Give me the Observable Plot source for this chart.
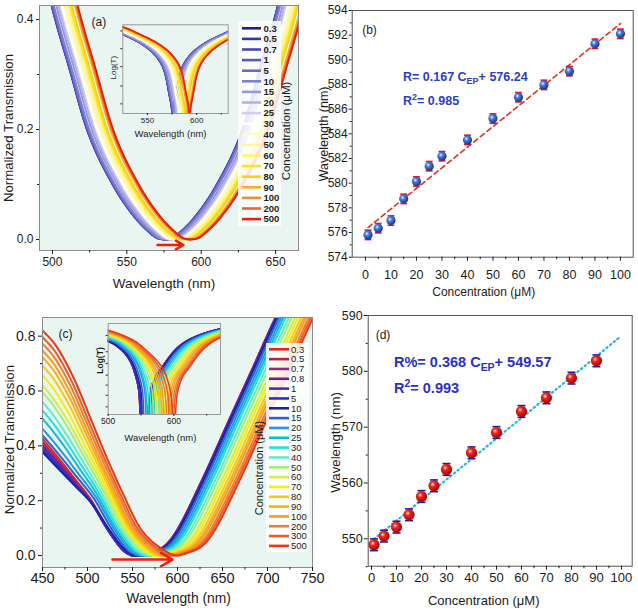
<!DOCTYPE html>
<html><head><meta charset="utf-8">
<script src="https://cdn.jsdelivr.net/npm/d3@7"></script>
<script src="https://cdn.jsdelivr.net/npm/@observablehq/plot@0.6"></script>
<style>
body{margin:0;background:#fff;}
#wrap{position:relative;width:638px;height:610px;overflow:hidden;}
#wrap svg{position:absolute;left:0;top:0;}
</style></head><body><div id="wrap"></div>
<script>
// ================= DATA =================
// Panel (a): spectra, concentrations (µM), colours, dip wavelengths (nm)
const aConc = ["0.3","0.5","0.7","1","5","10","15","20","25","30","40","50","60","70","80","90","100","200","500"];
const aColor = ["#1e1e8c","#3333ad","#4545bd","#5757c6","#6a6ad0","#7f7fd0","#9898dc","#b2b2e6","#d2cdf0","#ffffff","#fffcc8","#fff6a0","#fff070","#fbe61a","#f8cf1e","#f6ae26","#f38c2a","#ef6331","#e8210e"];
const aDip = [575.5,575.6,575.7,575.8,576.3,577.0,578.7,580.1,581.4,582.2,583.5,585.3,587.0,588.0,589.1,591.3,592.1,592.6,593.0];
const aShape = [[0,0],[5,0.0025],[9,0.010],[20,0.040],[35,0.100],[52,0.198],[64,0.310],[76,0.425],[92,0.62]];
const aArrowX = [570.6, 588.0];
const aArrowY = -0.01;
const aXTicks = [500,550,600,650], aXMinor = [525,575,625];
const aYTicks = [0,0.2,0.4], aYMinor = [0.1,0.3];
const aInsetXTicks = [550,600], aInsetXMinor = [575,625];
const aInsetYTicks = [-0.6,-1.25,-1.9,-2.6,-3.25];

// Panel (b): resonance wavelength vs concentration
const bConc = [1,5,10,15,20,25,30,40,50,60,70,80,90,100];
const bWave = [575.81,576.35,576.97,578.73,580.14,581.38,582.19,583.51,585.24,586.97,587.97,589.08,591.30,592.11];
const bErr  = [0.38,0.38,0.38,0.38,0.38,0.38,0.38,0.38,0.38,0.38,0.38,0.38,0.38,0.38];
const bSlope = 0.167, bIntercept = 576.24, bFitRange = [1,100];
const bXTicks = [0,10,20,30,40,50,60,70,80,90,100], bXMinor = [5,15,25,35,45,55,65,75,85,95];
const bYTicks = [574,576,578,580,582,584,586,588,590,592,594], bYMinor = [575,577,579,581,583,585,587,589,591,593];

// Panel (c): spectra
const cConc = ["0.3","0.5","0.7","0.8","1","5","10","15","20","25","30","40","50","60","70","80","90","100","200","300","500"];
const cColor = ["#e32420","#b0205a","#902a86","#6c2284","#4a30a6","#2a2ed6","#1a22a4","#2a60d2","#2496e2","#12bcd8","#22e2d6","#62eebe","#a0ee80","#d6ee40","#f8ec08","#f8c814","#f8ae18","#f89a26","#f07e30","#ee5a28","#ea3818"];
const cDip = [548.5,548.6,548.7,548.8,548.9,550.4,552.1,554.3,557.6,559.5,562.4,565.4,569.0,572.8,575.3,578.8,581.9,585.0,589.0,593.0,598.0];
const cLeft450 = [0.426,0.414,0.405,0.398,0.395,0.386,0.377,0.438,0.462,0.499,0.529,0.560,0.596,0.620,0.657,0.693,0.724,0.748,0.773,0.797,0.821];
const cHalfRight = [658,658.2,658.4,658.6,658.8,659.3,660,662,664.5,667,669.5,673,676,680,683,686.5,689.5,692,695,697.5,700];
const cLeftLow  = [[0,0],[0.09,0.046],[0.27,0.246],[0.45,0.49],[0.65,0.676],[0.85,0.86],[1,1]];
const cLeftHigh = [[0,0],[0.064,0.015],[0.264,0.119],[0.39,0.267],[0.514,0.43],[0.64,0.61],[0.764,0.786],[0.9,0.933],[1,1]];
const cRight = [[-98,0],[-90,0.008],[-72,0.036],[-60,0.085],[-32,0.267],[0,0.5],[25,0.68],[52,0.876],[80,1.05]];
const cArrowX = [527.8, 594.4];
const cArrowY = -0.015;
const cXTicks = [450,500,550,600,650,700,750], cXMinor = [475,525,575,625,675,725];
const cYTicks = [0,0.2,0.4,0.6,0.8], cYMinor = [0.1,0.3,0.5,0.7];
const cInsetXTicks = [500,600], cInsetXMinor = [550,650];
const cInsetYTicks = [-0.46,-1.04,-1.46,-1.87,-2.22,-2.58,-2.99];

// Panel (d)
const dConc = [1,5,10,15,20,25,30,40,50,60,70,80,90];
const dWave = [548.93,550.48,552.09,554.30,557.58,559.49,562.42,565.40,569.04,572.81,575.25,578.78,581.88];
const dErr  = [1.05,1.05,1.05,1.05,1.05,1.05,1.05,1.05,1.05,1.05,1.05,1.05,1.05];
const dSlope = 0.368, dIntercept = 549.57, dFitRange = [1,99];
const dXTicks = [0,10,20,30,40,50,60,70,80,90,100], dXMinor = [5,15,25,35,45,55,65,75,85,95];
const dYTicks = [550,560,570,580,590], dYMinor = [545,555,565,575,585];

// ================= HELPERS =================
const FONT = '"Liberation Sans", Arial, Helvetica, sans-serif';
const MINT = "#e9f5f1";
const W = 638, H = 610;
const wrap = document.getElementById("wrap");
const style = () => ({fontFamily: FONT, background: "transparent", color: "#1c1c1c"});

function monotone(pts){
  const n=pts.length, xs=pts.map(p=>p[0]), ys=pts.map(p=>p[1]);
  const d=[]; for(let i=0;i<n-1;i++) d.push((ys[i+1]-ys[i])/(xs[i+1]-xs[i]));
  const m=new Array(n); m[0]=d[0]; m[n-1]=d[n-2];
  for(let i=1;i<n-1;i++) m[i]= d[i-1]*d[i]<=0?0:(d[i-1]+d[i])/2;
  for(let i=0;i<n-1;i++){ if(d[i]===0){m[i]=0;m[i+1]=0;continue;}
    const a=m[i]/d[i], b=m[i+1]/d[i], s=a*a+b*b;
    if(s>9){const t=3/Math.sqrt(s); m[i]=t*a*d[i]; m[i+1]=t*b*d[i];} }
  return x=>{
    if(x<=xs[0]) return ys[0]+m[0]*(x-xs[0]);
    if(x>=xs[n-1]) return ys[n-1]+m[n-1]*(x-xs[n-1]);
    let i=0; while(x>xs[i+1]) i++;
    const h=xs[i+1]-xs[i], t=(x-xs[i])/h, t2=t*t, t3=t2*t;
    return (2*t3-3*t2+1)*ys[i]+(t3-2*t2+t)*h*m[i]+(-2*t3+3*t2)*ys[i+1]+(t3-t2)*h*m[i+1];
  };
}
const capSymbol = {draw(ctx, size){ const r=Math.sqrt(size/Math.PI); ctx.moveTo(-r,0); ctx.lineTo(r,0); }};

function eq(svg, x, y, size, color, parts){
  const t = svg.append("text").attr("x",x).attr("y",y).attr("font-family",FONT).attr("text-anchor","start")
    .attr("font-size",size).attr("font-weight","bold").attr("fill",color);
  let shift=0;
  for(const p of parts){
    const ts=t.append("tspan").text(p.t);
    const target = p.sub ? size*0.28 : p.sup ? -size*0.4 : 0;
    if(target!==shift){ ts.attr("dy", target-shift); shift=target; }
    if(p.sub||p.sup) ts.attr("font-size", size*0.72);
  }
}
function legend(svg, labels, colors, o){
  svg.append("rect").attr("x",o.bx).attr("y",o.by).attr("width",o.bw).attr("height",o.bh)
    .attr("fill","#ffffff").attr("opacity",0.85);
  labels.forEach((lab,i)=>{
    const y=o.y0+i*o.dy;
    svg.append("line").attr("x1",o.x0).attr("x2",o.x1).attr("y1",y).attr("y2",y)
      .attr("stroke",colors[i]).attr("stroke-width",2.6);
    svg.append("text").attr("x",o.xt).attr("y",y).attr("dy","0.35em").attr("font-family",FONT).attr("text-anchor","start")
      .attr("font-size",o.fs).attr("font-weight",o.bold?"bold":"normal").attr("fill","#1c1c1c").text(lab);
  });
  svg.append("text").attr("transform",`translate(${o.tx},${o.ty}) rotate(-90)`).attr("text-anchor","middle")
    .attr("dy","0.35em").attr("font-family",FONT).attr("font-size",o.tfs).attr("fill","#1c1c1c").text("Concentration (μM)");
}
function sphereGrad(svg, id, c0, c1, c2){
  const g = svg.insert("defs",":first-child").append("radialGradient").attr("id",id)
    .attr("cx","38%").attr("cy","36%").attr("r","62%");
  g.append("stop").attr("offset","0%").attr("stop-color",c0);
  g.append("stop").attr("offset","35%").attr("stop-color",c1);
  g.append("stop").attr("offset","100%").attr("stop-color",c2);
}

// ================= CURVE TABLES =================
const aT = monotone(aShape);
const aData = [];
aConc.forEach((c,i)=>{
  const l0=aDip[i];
  const xs=d3.range(491,666.01,0.5); xs.push(l0); xs.sort((p,q)=>p-q);
  for(const x of xs){
    const y=Math.max(0,aT(Math.abs(x-l0)));
    aData.push({i, x, y, ly:Math.log10(Math.max(y,1e-4)), col:aColor[i]});
  }
});

const cLowT=monotone(cLeftLow), cHighT=monotone(cLeftHigh), cRT=monotone(cRight);
const minA=d3.min(cLeft450), maxA=d3.max(cLeft450);
const cData=[];
cConc.forEach((c,i)=>{
  const l0=cDip[i], A=cLeft450[i], h=cHalfRight[i];
  const w=Math.max(0,Math.min(1,(A-minA)/(maxA-minA)));
  const xs=d3.range(450,750.01,0.5); xs.push(l0); xs.sort((p,q)=>p-q);
  for(const x of xs){
    let L=0;
    if(x<l0){ const s=(l0-x)/(l0-450); L=A*((1-w)*cLowT(s)+w*cHighT(s)); }
    const R=x<=h-98?0:Math.max(0,cRT(x-h));
    const y= x===l0?0:Math.max(L,R,0);
    cData.push({i, x, y, ly:Math.log10(Math.max(y,1e-4)), col:cColor[i]});
  }
});

const bPts = bConc.map((x,i)=>({x, y:bWave[i], e:bErr[i]}));
const dPts = dConc.map((x,i)=>({x, y:dWave[i], e:dErr[i]}));
const bFit = bFitRange.map(x=>({x, y:bIntercept+bSlope*x}));
const dFit = dFitRange.map(x=>({x, y:dIntercept+dSlope*x}));

const yTitle = (t, dx, dy, fs) => Plot.text([t],{text:d=>d,frameAnchor:"left",dx,dy,rotate:-90,fontSize:fs,textAnchor:"middle",lineAnchor:"middle"});
const xTitle = (t, dx, dy, fs) => Plot.text([t],{text:d=>d,frameAnchor:"bottom",dx,dy,fontSize:fs,textAnchor:"middle",lineAnchor:"middle"});

// ================= PANEL (a) =================
const pA = Plot.plot({
  width:W, height:H, marginLeft:39, marginRight:340, marginTop:5, marginBottom:360,
  x:{domain:[491.3,665.4]}, y:{domain:[-0.02,0.4255]}, color:{type:"identity"}, style:style(),
  marks:[
    Plot.frame({fill:MINT, stroke:null}),
    Plot.line(aData,{x:"x",y:"y",z:"i",stroke:"col",strokeWidth:2,clip:true}),
    Plot.arrow([0],{x1:()=>aArrowX[0],x2:()=>aArrowX[1],y1:()=>aArrowY,y2:()=>aArrowY,stroke:"#e8200c",strokeWidth:2.5,headLength:8}),
    Plot.frame({stroke:"#8c8c8c"}),
    Plot.axisX({ticks:aXTicks,tickSize:4,tickPadding:3,fontSize:12,label:null}),
    Plot.axisX({ticks:aXMinor,tickSize:2.5,tickFormat:()=>"",label:null}),
    Plot.axisY({ticks:aYTicks,tickSize:3,tickPadding:3,fontSize:12,tickFormat:d3.format(".1f"),label:null}),
    Plot.axisY({ticks:aYMinor,tickSize:2,tickFormat:()=>"",label:null}),
    xTitle("Wavelength (nm)",-5,33,13.5),
    yTitle("Normalized Transmission",-31,0,13.2),
    Plot.text(["(a)"],{text:d=>d,frameAnchor:"top-left",dx:52,dy:12,fontSize:12,textAnchor:"start"})
  ]
});
wrap.appendChild(pA);
legend(d3.select(pA), aConc, aColor, {bx:238,by:21,bw:43,bh:205,x0:242,x1:261,xt:263.5,y0:28.3,dy:10.6,fs:9.5,bold:true,tx:285.5,ty:131,tfs:11.5});

// ================= PANEL (b) =================
const pB = Plot.plot({
  width:W, height:H, marginLeft:351.7, marginRight:5.3, marginTop:10, marginBottom:353.3,
  x:{domain:[-5.2,105]}, y:{domain:[574,594]}, style:style(),
  marks:[
    Plot.frame({stroke:"#555"}),
    Plot.axisX({ticks:bXTicks,tickSize:4,tickPadding:8.5,fontSize:12.5,label:null}),
    Plot.axisX({ticks:bXMinor,tickSize:2.5,tickFormat:()=>"",label:null}),
    Plot.axisY({ticks:bYTicks,tickSize:3,tickPadding:1.5,fontSize:12,label:null}),
    Plot.axisY({ticks:bYMinor,tickSize:2,tickFormat:()=>"",label:null}),
    Plot.line(bFit,{x:"x",y:"y",stroke:"#e0321e",strokeWidth:1.6,strokeDasharray:"5,3.5"}),
    Plot.ruleX(bPts,{x:"x",y1:d=>d.y-d.e,y2:d=>d.y+d.e,stroke:"#e3141c",strokeWidth:1.6}),
    Plot.dot(bPts,{x:"x",y:d=>d.y-d.e,symbol:capSymbol,r:3.4,stroke:"#e3141c",strokeWidth:1.6,fill:"none"}),
    Plot.dot(bPts,{x:"x",y:d=>d.y+d.e,symbol:capSymbol,r:3.4,stroke:"#e3141c",strokeWidth:1.6,fill:"none"}),
    Plot.dot(bPts,{x:"x",y:"y",r:4.6,fill:"#3a6fd8",stroke:null}),
    xTitle("Concentration (μM)",-9,35,12),
    yTitle("Wavelength (nm)",-28.5,0,12.5),
    Plot.text(["(b)"],{text:d=>d,frameAnchor:"top-left",dx:10,dy:15,fontSize:12,textAnchor:"start"})
  ]
});
wrap.appendChild(pB);
{ const s=d3.select(pB); sphereGrad(s,"gBlue","#eef4ff","#4a7fe0","#1b3596");
  s.selectAll("circle").attr("fill","url(#gBlue)");
  eq(s,403,80.5,12.5,"#2b40c4",[{t:"R= 0.167 C"},{t:"EP",sub:true},{t:"+ 576.24"}]);
  eq(s,403,104.5,12.5,"#2b40c4",[{t:"R"},{t:"2",sup:true},{t:"= 0.985"}]); }

// ================= PANEL (c) =================
const pC = Plot.plot({
  width:W, height:H, marginLeft:42, marginRight:326, marginTop:317, marginBottom:43,
  x:{domain:[450,750]}, y:{domain:[-0.0438,0.868]}, color:{type:"identity"}, style:style(),
  marks:[
    Plot.frame({fill:MINT, stroke:null}),
    Plot.line(cData,{x:"x",y:"y",z:"i",stroke:"col",strokeWidth:2,clip:true}),
    Plot.arrow([0],{x1:()=>cArrowX[0],x2:()=>cArrowX[1],y1:()=>cArrowY,y2:()=>cArrowY,stroke:"#e8200c",strokeWidth:2.5,headLength:8}),
    Plot.frame({stroke:"#8c8c8c"}),
    Plot.axisX({ticks:cXTicks,tickSize:4,tickPadding:1.5,fontSize:14.5,label:null}),
    Plot.axisX({ticks:cXMinor,tickSize:2.5,tickFormat:()=>"",label:null}),
    Plot.axisY({ticks:cYTicks,tickSize:4,tickPadding:3,fontSize:14,tickFormat:d3.format(".1f"),label:null}),
    Plot.axisY({ticks:cYMinor,tickSize:2,tickFormat:()=>"",label:null}),
    xTitle("Wavelength (nm)",1,31,13.8),
    yTitle("Normalized Transmission",-33,-3,13.3),
    Plot.text(["(c)"],{text:d=>d,frameAnchor:"top-left",dx:16,dy:12,fontSize:12,textAnchor:"start"})
  ]
});
wrap.appendChild(pC);
legend(d3.select(pC), cConc, cColor, {bx:266,by:343,bw:43,bh:209,x0:269,x1:289,xt:291,y0:349.3,dy:9.83,fs:9.5,bold:false,tx:259.5,ty:468,tfs:11});

// ================= PANEL (d) =================
const pD = Plot.plot({
  width:W, height:H, marginLeft:367.7, marginRight:6.3, marginTop:315, marginBottom:44.3,
  x:{domain:[-1.33,104.3]}, y:{domain:[545.09,590]}, style:style(),
  marks:[
    Plot.frame({stroke:"#555"}),
    Plot.axisX({ticks:dXTicks,tickSize:4,tickPadding:3,fontSize:13,label:null}),
    Plot.axisX({ticks:dXMinor,tickSize:2.5,tickFormat:()=>"",label:null}),
    Plot.axisY({ticks:dYTicks,tickSize:4,tickPadding:1.5,fontSize:12.5,label:null}),
    Plot.axisY({ticks:dYMinor,tickSize:2,tickFormat:()=>"",label:null}),
    Plot.line(dFit,{x:"x",y:"y",stroke:"#2cb5d8",strokeWidth:2.2,strokeDasharray:"1.5,3.2",strokeLinecap:"round"}),
    Plot.ruleX(dPts,{x:"x",y1:d=>d.y-d.e,y2:d=>d.y+d.e,stroke:"#1c1ca8",strokeWidth:1.6}),
    Plot.dot(dPts,{x:"x",y:d=>d.y-d.e,symbol:capSymbol,r:4,stroke:"#1c1ca8",strokeWidth:1.6,fill:"none"}),
    Plot.dot(dPts,{x:"x",y:d=>d.y+d.e,symbol:capSymbol,r:4,stroke:"#1c1ca8",strokeWidth:1.6,fill:"none"}),
    Plot.dot(dPts,{x:"x",y:"y",r:5.6,fill:"#e01010",stroke:null}),
    xTitle("Concentration (μM)",-16.5,34.3,13),
    yTitle("Wavelength (nm)",-32.7,1.6,13.3),
    Plot.text(["(d)"],{text:d=>d,frameAnchor:"top-left",dx:7.5,dy:15,fontSize:12,textAnchor:"start"})
  ]
});
wrap.appendChild(pD);
{ const s=d3.select(pD); sphereGrad(s,"gRed","#ffe0dc","#ee2418","#a30a06");
  s.selectAll("circle").attr("fill","url(#gRed)");
  eq(s,394,366.5,14.5,"#2b30c8",[{t:"R%= 0.368 C"},{t:"EP",sub:true},{t:"+ 549.57"}]);
  eq(s,394,392.5,14.5,"#2b30c8",[{t:"R"},{t:"2",sup:true},{t:"= 0.993"}]); }

// ================= INSET (a) =================
const iA = Plot.plot({
  width:W, height:H, marginLeft:122.3, marginRight:410.3, marginTop:24.3, marginBottom:497,
  x:{domain:[525,632]}, y:{domain:[-3.6,-0.38]}, color:{type:"identity"}, style:style(),
  marks:[
    Plot.frame({fill:MINT, stroke:null}),
    Plot.line(aData,{x:"x",y:"ly",z:"i",stroke:"col",strokeWidth:1.6,clip:true}),
    Plot.frame({stroke:"#9a9a9a"}),
    Plot.axisX({ticks:aInsetXTicks,tickSize:2,tickPadding:1.5,fontSize:8,label:null}),
    Plot.axisX({ticks:aInsetXMinor,tickSize:1.5,tickFormat:()=>"",label:null}),
    Plot.axisY({ticks:aInsetYTicks,tickSize:2,tickFormat:()=>"",label:null}),
    xTitle("Wavelength (nm)",-5,20,9.5),
    yTitle("Log(T)",-9,-1.5,8)
  ]
});
wrap.appendChild(iA);

// ================= INSET (c) =================
const iC = Plot.plot({
  width:W, height:H, marginLeft:107.7, marginRight:418, marginTop:323, marginBottom:196,
  x:{domain:[500,671]}, y:{domain:[-3.26,-0.04]}, color:{type:"identity"}, style:style(),
  marks:[
    Plot.frame({fill:MINT, stroke:null}),
    Plot.line(cData,{x:"x",y:"ly",z:"i",stroke:"col",strokeWidth:1.5,clip:true}),
    Plot.frame({stroke:"#9a9a9a"}),
    Plot.axisX({ticks:cInsetXTicks,tickSize:2,tickPadding:1.5,fontSize:8.5,label:null}),
    Plot.axisX({ticks:cInsetXMinor,tickSize:1.5,tickFormat:()=>"",label:null}),
    Plot.axisY({ticks:cInsetYTicks,tickSize:2,tickFormat:()=>"",label:null}),
    xTitle("Wavelength (nm)",-4,23,9.5),
    Plot.text(["Log(T)"],{text:d=>d,frameAnchor:"left",dx:-8,dy:-8.5,rotate:-90,fontSize:8.5,fontWeight:"bold",textAnchor:"middle"})
  ]
});
wrap.appendChild(iC);
</script>
</body></html>
